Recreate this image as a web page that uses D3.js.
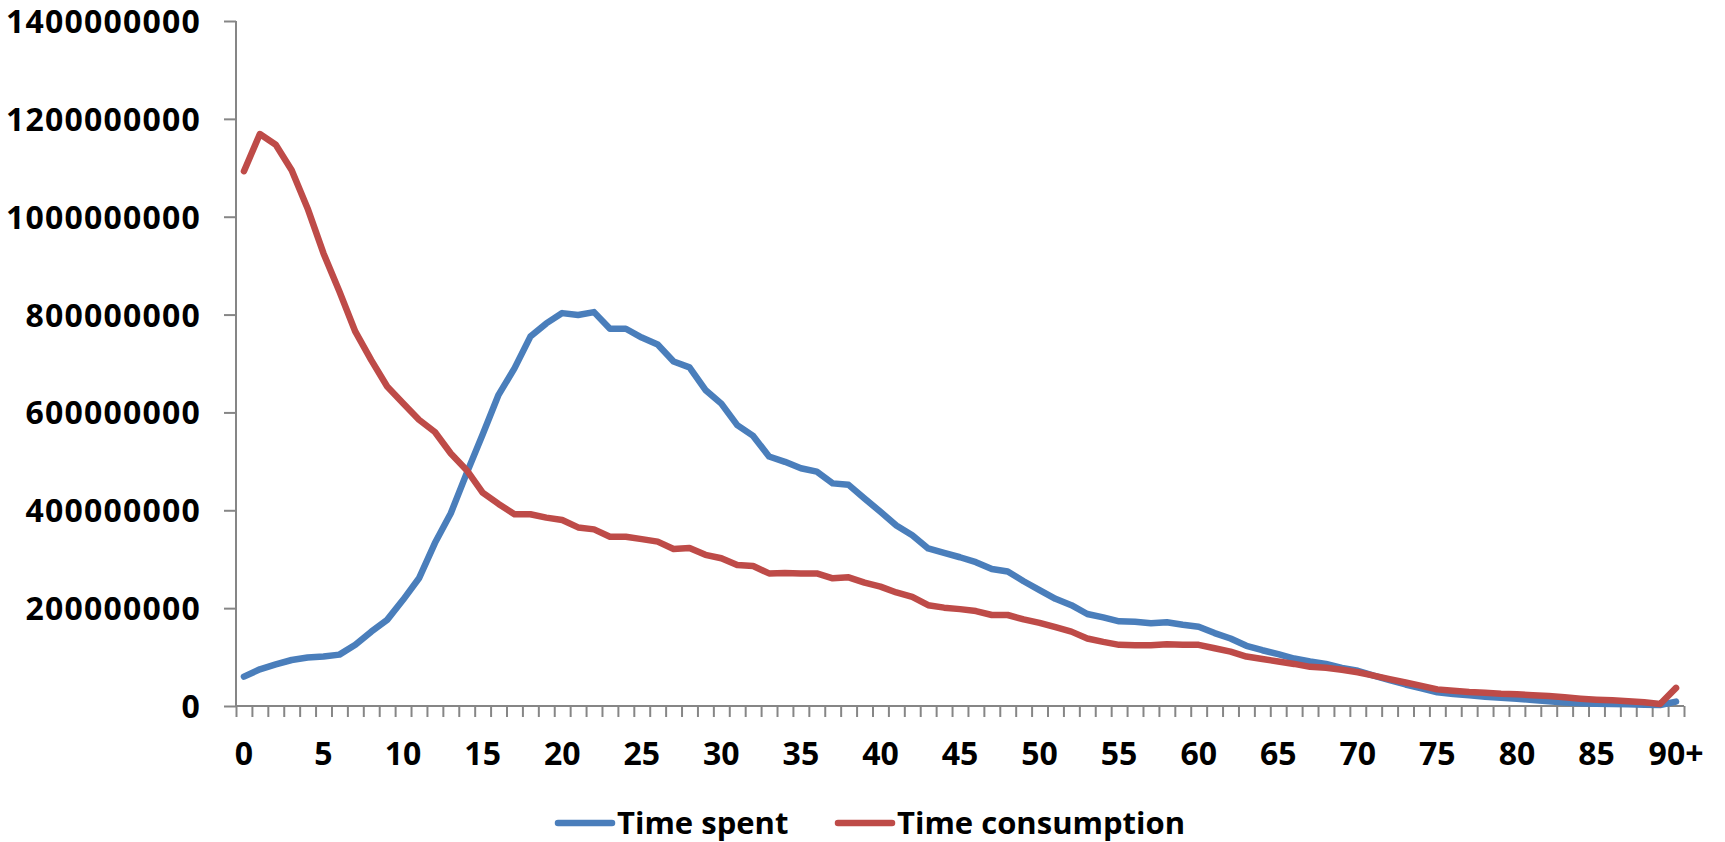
<!DOCTYPE html>
<html>
<head>
<meta charset="utf-8">
<script src="https://cdn.jsdelivr.net/npm/d3@7"></script>
<style>
  body { margin: 0; background: #fff; }
  text { font-family: "Open Sans", sans-serif; font-weight: 700; fill: #000; }
</style>
</head>
<body>
<div id="chart"></div>
<script>
var width = 1725,
    height = 842;

// ages 0..89 plus the open-ended last group
var categories = d3.range(90).map(String).concat(["90+"]);

// values in millions
var timeSpent = [60, 75, 85, 94, 99, 101, 105, 125, 152, 176,
    217, 261, 333, 394, 476, 555, 636, 690, 755, 782,
    803, 799, 805, 771, 771, 753, 739, 704, 692, 646,
    618, 574, 552, 510, 499, 486, 479, 455, 452, 424,
    397, 369, 349, 322, 313, 304, 294, 280, 275, 255,
    237, 219, 206, 188, 181, 173, 172, 169, 171, 166,
    162, 149, 138, 123, 114, 106, 97, 91, 86, 78,
    72, 62, 53, 44, 36, 28, 24.5, 22, 19, 17,
    15, 12, 9.5, 7, 5.5, 4.8, 4, 3.4, 2.7, 2,
    9];

var timeConsumption = [1093, 1169, 1147, 1095, 1017, 925, 847, 765, 707, 653,
    619, 585, 560, 516, 482, 436, 413, 392, 392, 385,
    380, 365, 361, 346, 346, 341, 336, 321, 323, 309,
    302, 288, 286, 271, 272, 271, 271, 261, 263, 252,
    244, 232, 223, 206, 201, 198, 194, 186, 186, 177,
    170, 161, 152, 138, 131, 125, 124, 124, 126, 125,
    125, 118, 111, 101, 96, 91, 86, 80, 78, 74,
    69, 62, 55, 48, 41, 34, 31, 28.6, 27, 25,
    24, 22, 20.4, 17.7, 15, 13, 11.6, 9.5, 7.5, 4,
    37];

var yTicks = [0, 200000000, 400000000, 600000000, 800000000, 1000000000, 1200000000, 1400000000];
var xTickLabels = ["0", "5", "10", "15", "20", "25", "30", "35", "40", "45",
    "50", "55", "60", "65", "70", "75", "80", "85", "90+"];

var seriesNames = ["Time spent", "Time consumption"];
var seriesColors = ["#4a7ebb", "#be4b48"];

var plotLeft = 236, plotRight = 1684, plotTop = 21, plotBottom = 706;

var svg = d3.select("#chart").append("svg")
    .attr("width", width)
    .attr("height", height);

var x = d3.scaleBand()
    .domain(categories)
    .range([plotLeft, plotRight])
    .paddingInner(0)
    .paddingOuter(0);

// boundaries between categories, for the tick marks
var xEdge = d3.scaleLinear()
    .domain([0, categories.length])
    .range([plotLeft, plotRight]);

var y = d3.scaleLinear()
    .domain([0, 1400000000])
    .range([plotBottom, plotTop]);

// y axis
var yAxis = svg.append("g")
    .attr("transform", "translate(" + plotLeft + ",0)")
    .call(d3.axisLeft(y).tickValues(yTicks).tickSize(12).tickPadding(23).tickFormat(d3.format("d")));
yAxis.selectAll("path, line").attr("stroke", "#868686").attr("stroke-width", 2);
yAxis.select(".domain").attr("d", "M0," + plotTop + "V" + plotBottom);
yAxis.selectAll("text").attr("font-size", 32).attr("dy", "0.357em").attr("fill", "#000")
    .style("font-family", "Open Sans").style("font-weight", 700)
    .style("letter-spacing", "1.2px");

// x axis: ticks between categories
var xAxis = svg.append("g")
    .attr("transform", "translate(0," + plotBottom + ")")
    .call(d3.axisBottom(xEdge).tickValues(d3.range(categories.length + 1)).tickSize(11).tickFormat(""));
xAxis.selectAll("path, line").attr("stroke", "#868686").attr("stroke-width", 2);
xAxis.select(".domain").attr("d", "M" + plotLeft + ",0H" + plotRight);

svg.append("g").selectAll("text")
    .data(xTickLabels)
    .enter().append("text")
    .attr("x", function (d) { return x(d) + x.bandwidth() / 2; })
    .attr("y", plotBottom + 59)
    .attr("text-anchor", "middle")
    .attr("font-size", 32)
    .text(function (d) { return d; });

// lines
var line = d3.line()
    .x(function (d, i) { return x(categories[i]) + x.bandwidth() / 2; })
    .y(function (d) { return y(d * 1e6); });

[timeSpent, timeConsumption].forEach(function (s, k) {
    svg.append("path")
        .datum(s)
        .attr("fill", "none")
        .attr("stroke", seriesColors[k])
        .attr("stroke-width", 6.5)
        .attr("stroke-linejoin", "round")
        .attr("stroke-linecap", "round")
        .attr("d", line);
});

// legend
var legendX = [558, 838];
var legend = svg.append("g").selectAll("g")
    .data(seriesNames)
    .enter().append("g")
    .attr("transform", function (d, i) { return "translate(" + legendX[i] + ",823)"; });

legend.append("line")
    .attr("x1", 0).attr("x2", 54)
    .attr("stroke", function (d, i) { return seriesColors[i]; })
    .attr("stroke-width", 6.5)
    .attr("stroke-linecap", "round");

legend.append("text")
    .attr("x", 59)
    .attr("y", 11)
    .attr("font-size", 31)
    .text(function (d) { return d; });
</script>
</body>
</html>
